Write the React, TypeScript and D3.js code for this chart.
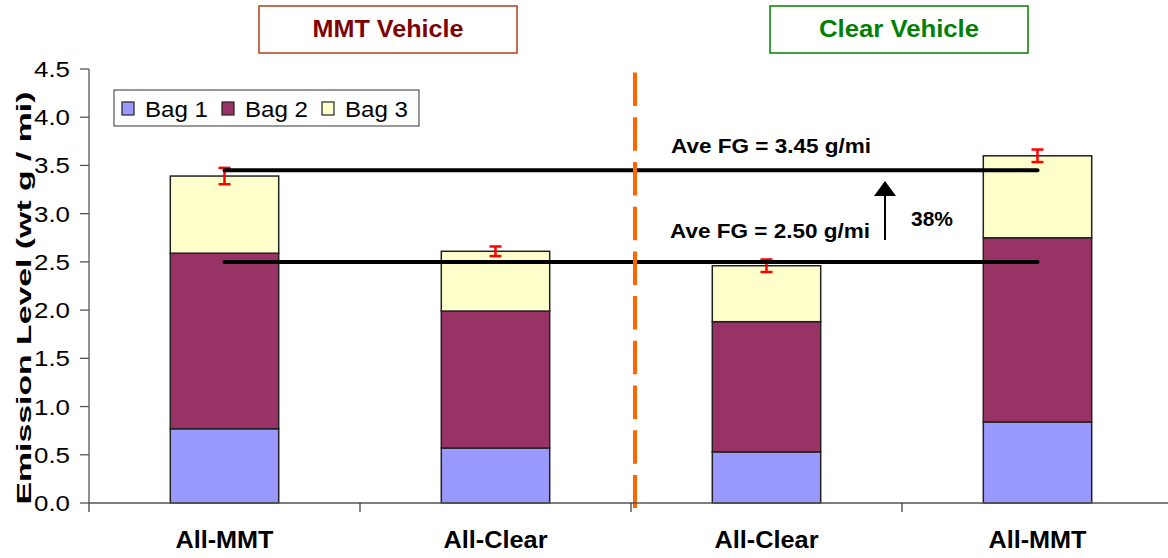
import React from "react";
import * as d3 from "d3";

const categories = ["All-MMT", "All-Clear", "All-Clear", "All-MMT"];
const bag1 = [0.77, 0.57, 0.53, 0.84];
const bag2 = [1.82, 1.42, 1.35, 1.91];
const bag3 = [0.8, 0.62, 0.58, 0.85];
const errors = [0.085, 0.05, 0.065, 0.065];
const seriesNames = ["Bag 1", "Bag 2", "Bag 3"];
const seriesColors = ["#9999FF", "#993366", "#FFFFCC"];
const yTicks = [0, 0.5, 1.0, 1.5, 2.0, 2.5, 3.0, 3.5, 4.0, 4.5];
const aveHigh = 3.45;
const aveLow = 2.5;
const aveLabels = ["Ave FG = 3.45 g/mi", "Ave FG = 2.50 g/mi"];
const pctLabel = "38%";
const groupTitles = ["MMT Vehicle", "Clear Vehicle"];

const FONT = "'Liberation Sans', Arial, sans-serif";

export default function App() {
  const W = 1168, H = 558;
  const x = d3.scaleBand<number>().domain(d3.range(categories.length)).range([89, 1173]).paddingInner(0.6).paddingOuter(0.3);
  const y = d3.scaleLinear().domain([0, 4.5]).range([503, 69]);
  const step = x.step();
  const rows = categories.map((c, i) => ({ i, b1: bag1[i], b2: bag2[i], b3: bag3[i] }));
  const stack = d3.stack<any>().keys(["b1", "b2", "b3"])(rows);
  const cx = (i: number) => (x(i) as number) + x.bandwidth() / 2;
  const totals = rows.map((r) => r.b1 + r.b2 + r.b3);
  const divX = 89 + step * 2 + 4;

  return (
    <svg width={W} height={H} style={{ position: "absolute", left: 0, top: 0, background: "#fff" }} fontFamily={FONT}>
      {/* group title boxes */}
      <rect x={259} y={6} width={258} height={47} fill="#fff" stroke="#B0401A" strokeWidth={1.5} />
      <text x={388} y={37} textAnchor="middle" fontSize={24} fontWeight="bold" fill="#800000" textLength={151} lengthAdjust="spacingAndGlyphs">{groupTitles[0]}</text>
      <rect x={770} y={6} width={258} height={47} fill="#fff" stroke="#008000" strokeWidth={1.5} />
      <text x={899} y={37} textAnchor="middle" fontSize={24} fontWeight="bold" fill="#008000" textLength={160} lengthAdjust="spacingAndGlyphs">{groupTitles[1]}</text>

      {/* bars */}
      {stack.map((s, si) => (
        <g key={si}>
          {s.map((d, i) => (
            <rect key={i} x={x(i)} y={y(d[1])} width={x.bandwidth()} height={y(d[0]) - y(d[1])} fill={seriesColors[si]} stroke="#222" strokeWidth={1.5} />
          ))}
        </g>
      ))}

      {/* error bars */}
      {totals.map((t, i) => (
        <g key={i} stroke="#FF0000" strokeWidth={2.5}>
          <line x1={cx(i)} x2={cx(i)} y1={y(t + errors[i])} y2={y(t - errors[i])} />
          <line x1={cx(i) - 6} x2={cx(i) + 6} y1={y(t + errors[i])} y2={y(t + errors[i])} />
          <line x1={cx(i) - 6} x2={cx(i) + 6} y1={y(t - errors[i])} y2={y(t - errors[i])} />
        </g>
      ))}

      {/* average lines */}
      <line x1={cx(0)} x2={cx(3)} y1={y(aveHigh)} y2={y(aveHigh)} stroke="#000" strokeWidth={4} strokeLinecap="round" />
      <line x1={cx(0)} x2={cx(3)} y1={y(aveLow)} y2={y(aveLow)} stroke="#000" strokeWidth={4} strokeLinecap="round" />
      <text x={671} y={153} fontSize={21} fontWeight="bold" textLength={200} lengthAdjust="spacingAndGlyphs">{aveLabels[0]}</text>
      <text x={670} y={238} fontSize={21} fontWeight="bold" textLength={200} lengthAdjust="spacingAndGlyphs">{aveLabels[1]}</text>
      <line x1={885} x2={885} y1={240} y2={194} stroke="#000" strokeWidth={2} />
      <path d="M874,196 L885,181 L896,196 Z" fill="#000" />
      <text x={911} y={226} fontSize={21} fontWeight="bold" textLength={42} lengthAdjust="spacingAndGlyphs">{pctLabel}</text>

      {/* divider */}
      <line x1={divX} x2={divX} y1={72.6} y2={508} stroke="#FF6600" strokeWidth={4} strokeDasharray="33.5 11.2" />

      {/* axes */}
      <line x1={89} x2={89} y1={69} y2={503} stroke="#555" strokeWidth={1.3} />
      <line x1={89} x2={1168} y1={503} y2={503} stroke="#555" strokeWidth={1.3} />
      {yTicks.map((t) => (
        <g key={t}>
          <line x1={80} x2={89} y1={y(t)} y2={y(t)} stroke="#555" strokeWidth={1.3} />
          <text x={70} y={y(t) + 8} textAnchor="end" fontSize={22} textLength={36} lengthAdjust="spacingAndGlyphs">{t.toFixed(1)}</text>
        </g>
      ))}
      {d3.range(categories.length + 1).map((k) => (
        <line key={k} x1={89 + k * step} x2={89 + k * step} y1={503} y2={512} stroke="#333" strokeWidth={1.2} />
      ))}
      {categories.map((c, i) => (
        <text key={i} x={cx(i)} y={548} textAnchor="middle" fontSize={23} fontWeight="bold" textLength={c === "All-MMT" ? 98 : 104} lengthAdjust="spacingAndGlyphs">{c}</text>
      ))}
      <text transform="translate(31,298) rotate(-90)" textAnchor="middle" fontSize={21} fontWeight="bold" textLength={413} lengthAdjust="spacingAndGlyphs">Emission Level (wt g / mi)</text>

      {/* legend */}
      <rect x={114} y={90} width={305} height={36} fill="#fff" stroke="#333" strokeWidth={1} />
      {seriesNames.map((n, i) => {
        const lx = 122 + i * 100;
        return (
          <g key={n}>
            <rect x={lx} y={102} width={12} height={13} fill={seriesColors[i]} stroke="#222" strokeWidth={1.2} />
            <text x={lx + 23} y={117} fontSize={22} textLength={63} lengthAdjust="spacingAndGlyphs">{n}</text>
          </g>
        );
      })}
    </svg>
  );
}
